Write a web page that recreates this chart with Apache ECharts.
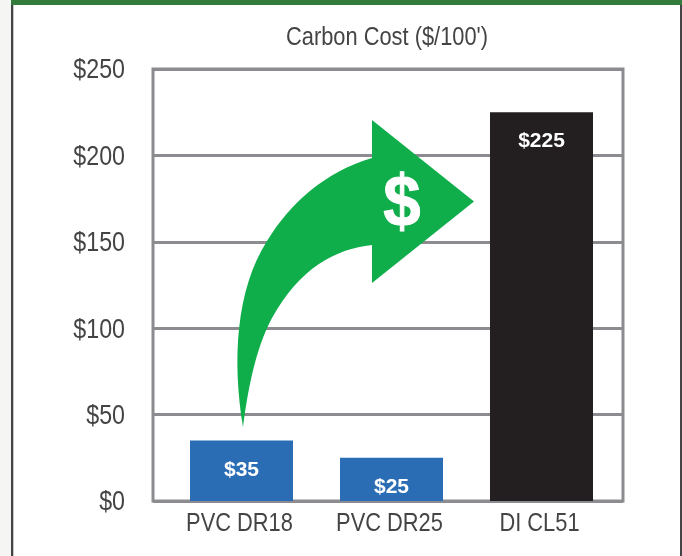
<!DOCTYPE html>
<html><head><meta charset="utf-8">
<style>html,body{margin:0;padding:0;background:#fff}#c{width:682px;height:556px}</style>
<script src="https://cdn.jsdelivr.net/npm/echarts@6/dist/echarts.min.js"></script>
</head><body><div id="c"></div>
<script>
const categories = ['PVC DR18', 'PVC DR25', 'DI CL51'];
const costValues = [35, 25, 225];
const barColors = ['#2a6db5', '#2a6db5', '#231f20'];
const yTicks = [0, 50, 100, 150, 200, 250];
const titleText = "Carbon Cost ($/100')";
const FONT = '"Liberation Sans",sans-serif';
const GRID_COLOR = '#8c8c90', TEXT = '#444444';
const ARROW = 'M243 427 C232 360 236 290 267 241 C290 203 325 172 372 158 L372 120 L474 201.5 L372 283 L372 245 C335 249 300 268 272 318 C255 350 248 390 243 427 Z';

const chart = echarts.init(document.getElementById('c'), null, {renderer: 'canvas'});

function squeezedText(x, y, text, font, align, scale) {
  return {type: 'text', x: x, y: y, scaleX: scale,
    style: {text: text, x: 0, y: 0, font: font, fill: TEXT, textAlign: align, textVerticalAlign: 'middle'}};
}

chart.setOption({
  animation: false,
  backgroundColor: '#ffffff',
  grid: [
    {left: 153, right: 59, top: 69, bottom: 55, show: true, borderColor: GRID_COLOR, borderWidth: 3, backgroundColor: 'transparent'},
    {left: 166.5, right: 65.5, top: 69, bottom: 55}
  ],
  xAxis: [
    {gridIndex: 0, type: 'value', min: 0, max: 1, show: false},
    {gridIndex: 1, type: 'category', data: categories,
      axisLine: {show: false}, axisTick: {show: false}, axisLabel: {show: false}}
  ],
  yAxis: [
    {gridIndex: 0, type: 'value', min: 0, max: 250, interval: 50,
      axisLine: {show: false}, axisTick: {show: false}, axisLabel: {show: false},
      splitLine: {show: true, lineStyle: {color: GRID_COLOR, width: 3}}},
    {gridIndex: 1, type: 'value', min: 0, max: 250, interval: 50, show: false}
  ],
  series: [
    {
      type: 'bar', xAxisIndex: 1, yAxisIndex: 1, barWidth: 103, z: 3,
      data: costValues.map((v, i) => ({value: v, itemStyle: {color: barColors[i]}})),
      label: {show: true, position: 'insideTop', distance: 19, color: '#fff',
        fontFamily: FONT, fontWeight: 'bold', fontSize: 21,
        formatter: p => '$' + p.value}
    },
    {
      type: 'custom', xAxisIndex: 0, yAxisIndex: 0, z: 4, silent: true,
      data: yTicks.map(v => [0, v]),
      renderItem: (params, api) => {
        const p = api.coord([0, api.value(1)]);
        return squeezedText(125, p[1] + 2, '$' + api.value(1), '27px ' + FONT, 'right', 0.86);
      }
    },
    {
      type: 'custom', xAxisIndex: 1, yAxisIndex: 1, z: 4, silent: true,
      data: categories.map((c, i) => [i, 0]),
      renderItem: (params, api) => {
        const p = api.coord([params.dataIndex, 0]);
        return squeezedText(p[0] - 2, p[1] + 23, categories[params.dataIndex], '26px ' + FONT, 'center', 0.84);
      }
    },
    {
      type: 'custom', xAxisIndex: 0, yAxisIndex: 0, z: 5, silent: true,
      data: [[0, 0]],
      renderItem: () => ({type: 'group', children: [
        {type: 'path', shape: {pathData: ARROW}, style: {fill: '#0fae4b'}},
        {type: 'text', x: 402, y: 206, scaleX: 0.92, style: {text: '$', x: 0, y: 0, fill: '#ffffff',
          font: 'bold 73px ' + FONT, textAlign: 'center', textVerticalAlign: 'middle',
          stroke: '#ffffff', lineWidth: 1}},
        squeezedText(387, 38, titleText, '26px ' + FONT, 'center', 0.84)
      ]})
    }
  ],
  graphic: [
    {type: 'rect', z: 0, silent: true, shape: {x: 0, y: 0, width: 11, height: 556}, style: {fill: '#f5f5f4'}},
    {type: 'rect', z: 10, silent: true, shape: {x: 11, y: 0, width: 2.3, height: 556}, style: {fill: '#444444'}},
    {type: 'rect', z: 10, silent: true, shape: {x: 680, y: 0, width: 2, height: 556}, style: {fill: '#444444'}},
    {type: 'rect', z: 10, silent: true, shape: {x: 11, y: 0, width: 671, height: 5}, style: {fill: '#317c3b'}}
  ]
});
</script></body></html>
